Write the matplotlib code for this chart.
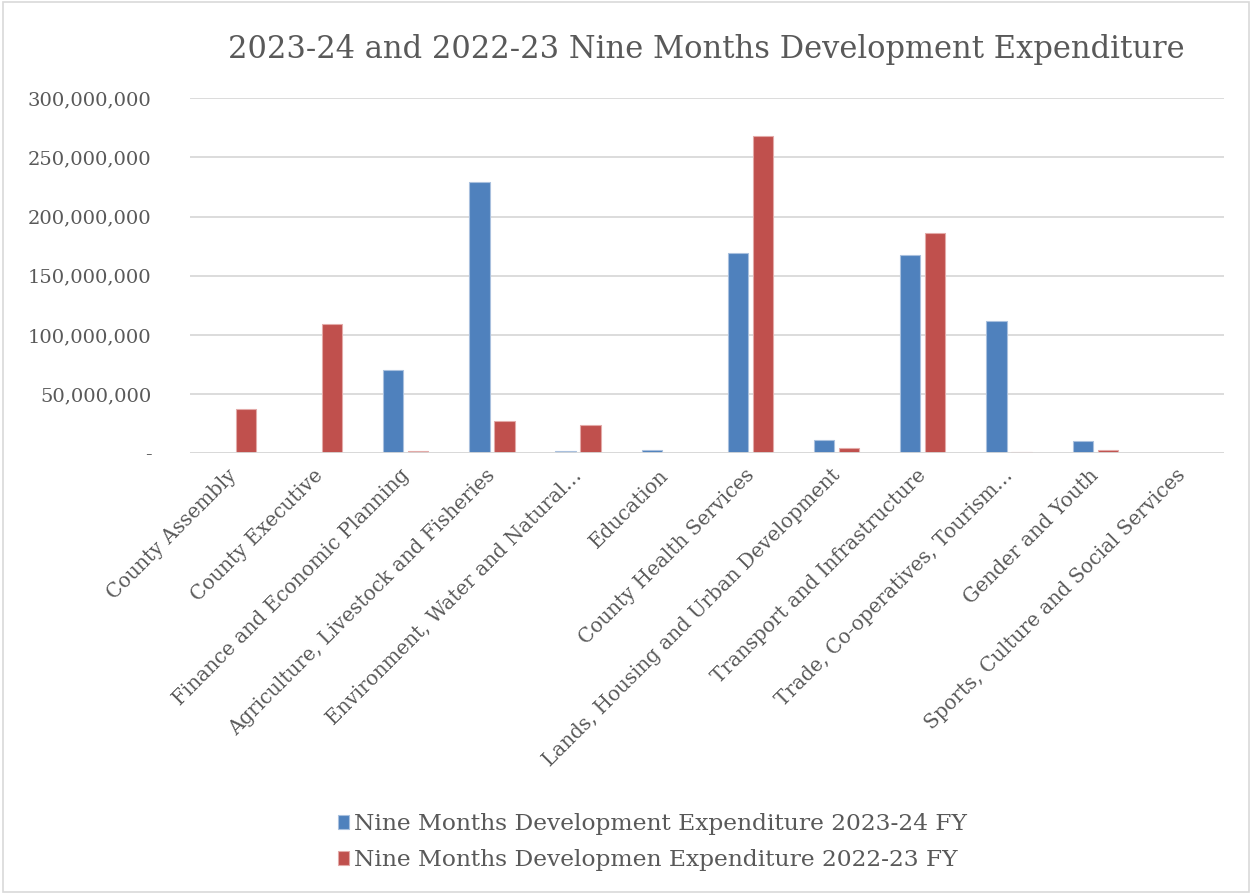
import matplotlib
matplotlib.use("Agg")
import matplotlib.pyplot as plt
import matplotlib.transforms as mtransforms
import numpy as np
from matplotlib.ticker import FuncFormatter
from matplotlib.patches import Rectangle

plt.rcParams["font.family"] = ["DejaVu Serif"]

CATEGORIES = [
    "County Assembly",
    "County Executive",
    "Finance and Economic Planning",
    "Agriculture, Livestock and Fisheries",
    "Environment, Water and Natural\u2026",
    "Education",
    "County Health Services",
    "Lands, Housing and Urban Development",
    "Transport and Infrastructure",
    "Trade, Co-operatives, Tourism\u2026",
    "Gender and Youth",
    "Sports, Culture and Social Services",
]
EXP_2023_24 = [0, 0, 70.0e6, 229.5e6, 1.5e6, 3.0e6, 169.0e6, 11.6e6, 167.5e6, 112.0e6, 10.4e6, 0]
EXP_2022_23 = [37.0e6, 109.0e6, 1.5e6, 27.5e6, 23.7e6, 0, 268.5e6, 4.2e6, 186.5e6, 1.2e6, 2.6e6, 0]
SERIES_LABELS = [
    "Nine Months Development Expenditure 2023-24 FY",
    "Nine Months Developmen Expenditure 2022-23 FY",
]
TITLE = "2023-24 and 2022-23 Nine Months Development Expenditure"

BLUE = "#4F81BD"
RED = "#C0504D"
TEXT = "#595959"
GRID = "#D9D9D9"

fig = plt.figure(figsize=(12.52, 8.94), dpi=100)
ax = fig.add_axes([0.152, 0.493, 0.826, 0.397])

x = np.arange(len(CATEGORIES))
w = 0.235
off = 0.145
ax.bar(x - off, EXP_2023_24, width=w, color=BLUE, edgecolor="#A9C0DE", linewidth=0.8,
       label=SERIES_LABELS[0], zorder=3)
ax.bar(x + off, EXP_2022_23, width=w, color=RED, edgecolor="#E3AAA8", linewidth=0.8,
       label=SERIES_LABELS[1], zorder=3)

ax.set_xlim(-0.5, len(CATEGORIES) - 0.5)
ax.set_ylim(0, 300e6)
ax.set_yticks(np.arange(0, 300e6 + 1, 50e6))
ax.yaxis.set_major_formatter(FuncFormatter(lambda v, p: "-" if v == 0 else f"{v:,.0f}"))
ax.grid(axis="y", color=GRID, linewidth=1.3, zorder=0)
for s in ax.spines.values():
    s.set_visible(False)
ax.axhline(0, color=GRID, linewidth=1.3, zorder=4)
ax.tick_params(axis="both", length=0, labelcolor=TEXT, labelsize=14)
ax.tick_params(axis="y", pad=28)
ax.set_xticks(x)
ax.set_xticklabels(CATEGORIES, rotation=45, ha="right", rotation_mode="anchor", fontsize=14.3)
ax.tick_params(axis="x", pad=9)
shift = mtransforms.ScaledTranslation(-6 / 100, 0, fig.dpi_scale_trans)
for lbl in ax.get_xticklabels():
    lbl.set_transform(lbl.get_transform() + shift)

fig.text(0.564, 0.945, TITLE, ha="center", va="center", fontsize=22, color=TEXT)

leg = fig.legend(loc="center", bbox_to_anchor=(0.521, 0.058), ncol=1, frameon=False,
                 fontsize=16.8, labelcolor=TEXT, handlelength=0.5, handleheight=0.5,
                 handletextpad=0.2, labelspacing=0.6)

fig.patches.append(Rectangle((0.002, 0.002), 0.996, 0.996, transform=fig.transFigure,
                             fill=False, edgecolor=GRID, linewidth=1.2))

fig.savefig("out.png", dpi=100, facecolor="white")
